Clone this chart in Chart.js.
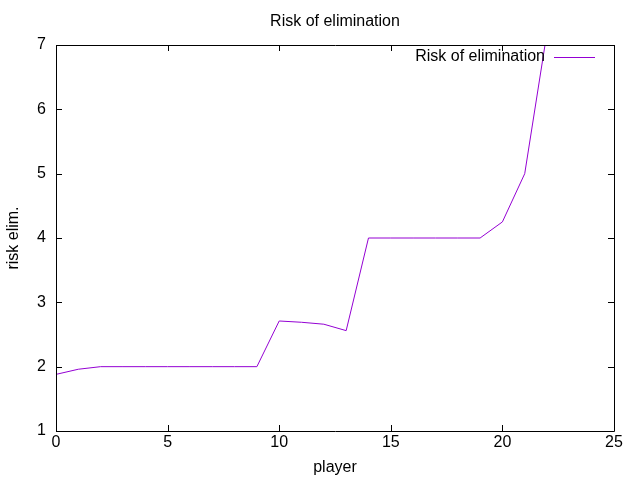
<!DOCTYPE html>
<html>
<head>
<meta charset="utf-8">
<script src="https://cdn.jsdelivr.net/npm/chart.js@4/dist/chart.umd.min.js"></script>
<style>
  html, body { margin: 0; padding: 0; background: #fff; }
  #wrap { width: 640px; height: 480px; }
</style>
</head>
<body>
<div id="wrap"><canvas id="riskChart" width="640" height="480"></canvas></div>
<script>
// values
const players = [0, 1, 2, 3, 4, 5, 6, 7, 8, 9, 10, 11, 12, 13, 14, 15, 16, 17, 18, 19, 20, 21, 22];
const risk = [1.88, 1.96, 2.0, 2.0, 2.0, 2.0, 2.0, 2.0, 2.0, 2.0, 2.71, 2.69, 2.66, 2.56, 4.0, 4.0, 4.0, 4.0, 4.0, 4.0, 4.25, 5.0, 7.2];
const xTicks = [0, 5, 10, 15, 20, 25];
const yTicks = [1, 2, 3, 4, 5, 6, 7];

const FONT = "'Liberation Sans', Arial, sans-serif";
const FSIZE = 16;
const lineColor = "#9400d3";

// gnuplot style frame: box plus inward ticks on all four sides, legend top right
const framePlugin = {
  id: "frame",
  afterDatasetsDraw(chart) {
    const { ctx, chartArea: a, scales } = chart;
    ctx.save();
    ctx.strokeStyle = "#000";
    ctx.lineWidth = 1;
    ctx.beginPath();
    ctx.rect(Math.round(a.left) + 0.5, Math.round(a.top) + 0.5,
      Math.round(a.right - a.left), Math.round(a.bottom - a.top));
    const len = 6;
    xTicks.forEach(v => {
      const px = Math.round(scales.x.getPixelForValue(v)) + 0.5;
      ctx.moveTo(px, a.bottom); ctx.lineTo(px, a.bottom - len);
      ctx.moveTo(px, a.top); ctx.lineTo(px, a.top + len);
    });
    yTicks.forEach(v => {
      const py = Math.round(scales.y.getPixelForValue(v)) + 0.5;
      ctx.moveTo(a.left, py); ctx.lineTo(a.left + len, py);
      ctx.moveTo(a.right, py); ctx.lineTo(a.right - len, py);
    });
    ctx.stroke();

    // legend
    const ds = chart.data.datasets[0];
    const ly = a.top + 12;
    ctx.font = FSIZE + "px " + FONT;
    ctx.fillStyle = "#000";
    ctx.textAlign = "right";
    ctx.textBaseline = "middle";
    ctx.fillText(ds.label, a.right - 69, ly);
    ctx.strokeStyle = ds.borderColor;
    ctx.beginPath();
    ctx.moveTo(a.right - 60, Math.round(ly) + 0.5);
    ctx.lineTo(a.right - 19, Math.round(ly) + 0.5);
    ctx.stroke();
    ctx.restore();
  }
};

const data = {
  datasets: [
    {
      label: "Risk of elimination",
      data: players.map((p, i) => ({ x: p, y: risk[i] })),
      borderColor: lineColor,
      borderWidth: 1,
      pointRadius: 0,
      fill: false,
      tension: 0
    }
  ]
};

const config = {
  type: "line",
  data: data,
  options: {
    responsive: false,
    animation: false,
    layout: { padding: { right: 26, left: 0, top: 0, bottom: 0 } },
    plugins: {
      legend: { display: false },
      tooltip: { enabled: false },
      title: {
        display: true,
        text: "Risk of elimination",
        fullSize: false,
        color: "#000",
        font: { family: FONT, size: FSIZE, weight: "normal" },
        padding: { top: 12, bottom: 13.8 }
      }
    },
    scales: {
      x: {
        type: "linear",
        min: 0,
        max: 25,
        afterFit(scale) { scale.height = 49; },
        afterBuildTicks(scale) { scale.ticks = xTicks.map(v => ({ value: v })); },
        grid: { display: false, drawTicks: false },
        border: { display: false },
        ticks: { color: "#000", font: { family: FONT, size: FSIZE }, padding: 2, maxRotation: 0 },
        title: {
          display: true, text: "player", color: "#000",
          font: { family: FONT, size: FSIZE }, padding: { top: 0, bottom: 3 }
        }
      },
      y: {
        type: "linear",
        min: 1,
        max: 7,
        afterFit(scale) { scale.width = 56; },
        afterBuildTicks(scale) { scale.ticks = yTicks.map(v => ({ value: v })); },
        grid: { display: false, drawTicks: false },
        border: { display: false },
        ticks: { color: "#000", font: { family: FONT, size: FSIZE }, padding: 10 },
        title: {
          display: true, text: "risk elim.", color: "#000",
          font: { family: FONT, size: FSIZE }, padding: { top: 4, bottom: 0 }
        }
      }
    }
  },
  plugins: [framePlugin]
};

new Chart(document.getElementById("riskChart").getContext("2d"), config);
</script>
</body>
</html>
